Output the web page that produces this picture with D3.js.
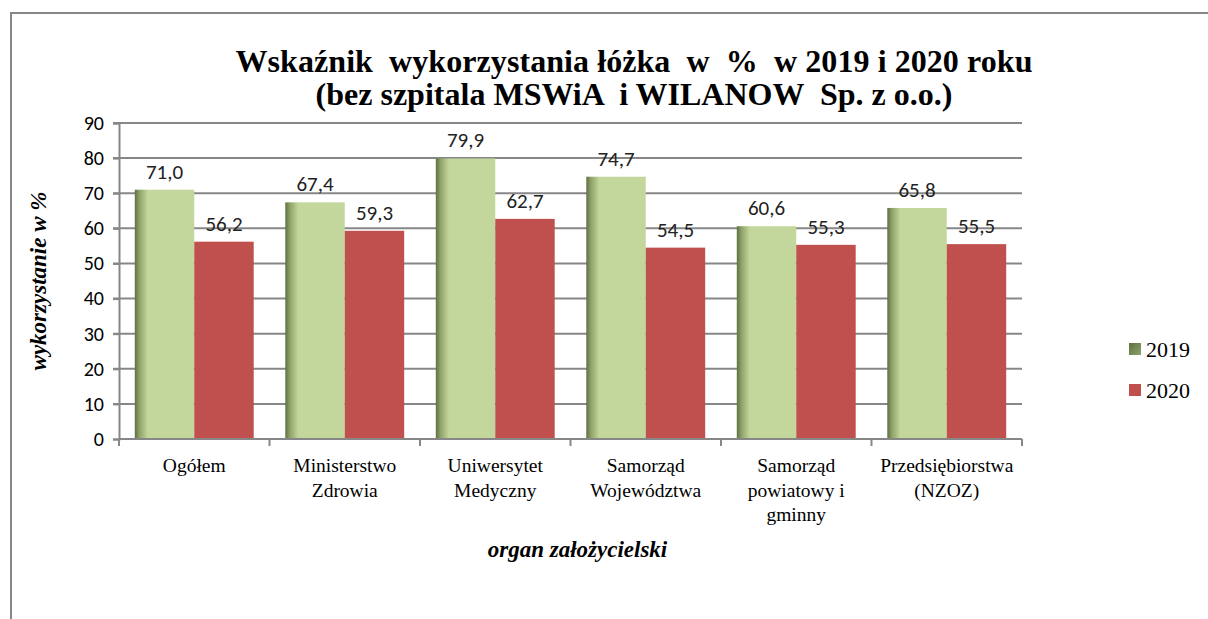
<!DOCTYPE html>
<html>
<head>
<meta charset="utf-8">
<script src="https://cdn.jsdelivr.net/npm/d3@7"></script>
<style>
  body { margin: 0; background: #fff; }
</style>
</head>
<body>
<script>
// chart values
var categories = [
    ["Ogółem"],
    ["Ministerstwo", "Zdrowia"],
    ["Uniwersytet", "Medyczny"],
    ["Samorząd", "Województwa"],
    ["Samorząd", "powiatowy i", "gminny"],
    ["Przedsiębiorstwa", "(NZOZ)"]
];
var years = ["2019", "2020"];
var values2019 = [71.0, 67.4, 79.9, 74.7, 60.6, 65.8];
var values2020 = [56.2, 59.3, 62.7, 54.5, 55.3, 55.5];
var yTicks = [0, 10, 20, 30, 40, 50, 60, 70, 80, 90];

var SERIF = "'Liberation Serif', 'Times New Roman', serif";
var SANS = "Carlito, 'Liberation Sans', sans-serif";

var W = 1208, H = 619;
var margin = {left: 119, right: 186, top: 123, bottom: 180};
var width = W - margin.left - margin.right,
    height = H - margin.top - margin.bottom;

var svg = d3.select("body").append("svg")
    .attr("width", W)
    .attr("height", H);

// outer frame
svg.append("rect")
    .attr("x", 11).attr("y", 13)
    .attr("width", W + 20).attr("height", H + 20)
    .attr("fill", "none")
    .attr("stroke", "#878787")
    .attr("stroke-width", 2);

var defs = svg.append("defs");
var grad = defs.append("linearGradient")
    .attr("id", "g2019")
    .attr("x1", "0%").attr("x2", "100%").attr("y1", "0%").attr("y2", "0%");
grad.append("stop").attr("offset", "0%").attr("stop-color", "#5f6f42");
grad.append("stop").attr("offset", "8%").attr("stop-color", "#8fa36a");
grad.append("stop").attr("offset", "22%").attr("stop-color", "#c3d69b");
grad.append("stop").attr("offset", "100%").attr("stop-color", "#c3d69b");

var lgGrad = defs.append("linearGradient")
    .attr("id", "lg2019")
    .attr("x1", "0%").attr("x2", "100%").attr("y1", "0%").attr("y2", "100%");
lgGrad.append("stop").attr("offset", "0%").attr("stop-color", "#5f6f42");
lgGrad.append("stop").attr("offset", "100%").attr("stop-color", "#8fa36a");

var colors = {"2019": "url(#g2019)", "2020": "#c0504d"};

var g = svg.append("g")
    .attr("transform", "translate(" + margin.left + "," + margin.top + ")");

var x0 = d3.scaleBand()
    .domain(d3.range(categories.length))
    .range([0, width])
    .paddingInner(0.21)
    .paddingOuter(0.105);

var x1 = d3.scaleBand()
    .domain(years)
    .range([0, x0.bandwidth()]);

var y = d3.scaleLinear()
    .domain([0, 90])
    .range([height, 0]);

// gridlines
g.selectAll(".grid")
    .data(yTicks.slice(1))
    .enter().append("line")
    .attr("x1", -6).attr("x2", width)
    .attr("y1", function(d) { return y(d); })
    .attr("y2", function(d) { return y(d); })
    .attr("stroke", "#878787")
    .attr("stroke-width", 2);

// y axis
var yAxis = g.append("g")
    .call(d3.axisLeft(y).tickValues(yTicks).tickSize(6).tickPadding(9));
yAxis.select(".domain").attr("stroke", "#878787").attr("stroke-width", 2);
yAxis.selectAll(".tick line").attr("stroke", "#878787").attr("stroke-width", 2);
yAxis.selectAll(".tick text")
    .style("font-family", SANS)
    .style("font-size", "20px")
    .attr("fill", "#000");

// bars
var rows = values2019.map(function(v, i) {
    return {i: i, vals: [{k: "2019", v: v}, {k: "2020", v: values2020[i]}]};
});

var groups = g.selectAll(".cat")
    .data(rows)
    .enter().append("g")
    .attr("transform", function(d) { return "translate(" + x0(d.i) + ",0)"; });

groups.selectAll("rect")
    .data(function(d) { return d.vals; })
    .enter().append("rect")
    .attr("x", function(d) { return x1(d.k); })
    .attr("y", function(d) { return y(d.v); })
    .attr("width", x1.bandwidth())
    .attr("height", function(d) { return height - y(d.v); })
    .attr("fill", function(d) { return colors[d.k]; });

groups.selectAll(".lbl")
    .data(function(d) { return d.vals; })
    .enter().append("text")
    .attr("x", function(d) { return x1(d.k) + x1.bandwidth() / 2; })
    .attr("y", function(d) { return y(d.v) - 11; })
    .attr("text-anchor", "middle")
    .style("font-family", SANS)
    .style("font-size", "21px")
    .attr("fill", "#222")
    .text(function(d) { return d3.format(".1f")(d.v).replace(".", ","); });

// x axis line and ticks at category boundaries
g.append("line")
    .attr("x1", 0).attr("x2", width)
    .attr("y1", height).attr("y2", height)
    .attr("stroke", "#878787").attr("stroke-width", 2);

var step = x0.step();
g.selectAll(".xt")
    .data(d3.range(categories.length + 1))
    .enter().append("line")
    .attr("x1", function(d) { return d * step; })
    .attr("x2", function(d) { return d * step; })
    .attr("y1", height).attr("y2", height + 7)
    .attr("stroke", "#878787").attr("stroke-width", 2);

// category labels
var catText = g.selectAll(".cl")
    .data(categories)
    .enter().append("text")
    .attr("text-anchor", "middle")
    .style("font-family", SERIF)
    .style("font-size", "19.5px")
    .attr("fill", "#000")
    .attr("transform", function(d, i) {
        return "translate(" + (x0(i) + x0.bandwidth() / 2) + "," + (height + 33) + ")";
    });
catText.selectAll("tspan")
    .data(function(d) { return d; })
    .enter().append("tspan")
    .attr("x", 0)
    .attr("dy", function(d, i) { return i === 0 ? 0 : 24.5; })
    .text(function(d) { return d; });

// titles, stretched to the widths seen in the reference
function title(txt, yy, w) {
    var t = svg.append("text")
        .attr("x", 634).attr("y", yy)
        .attr("text-anchor", "middle")
        .style("font-family", SERIF)
        .style("font-weight", "bold")
        .style("font-size", "32px")
        .style("white-space", "pre")
        .attr("fill", "#000")
        .text(txt);
    var len = t.node().getComputedTextLength();
    var n = txt.length;
    if (len > 0 && n > 1) {
        t.style("letter-spacing", ((w - len) / n) + "px");
    }
    return t;
}
title("Wskaźnik  wykorzystania łóżka  w  %  w 2019 i 2020 roku", 72, 797);
title("(bez szpitala MSWiA  i WILANOW  Sp. z o.o.)", 105, 637);

svg.append("text")
    .attr("transform", "translate(46," + (margin.top + y(45)) + ") rotate(-90)")
    .attr("text-anchor", "middle")
    .style("font-family", SERIF)
    .style("font-weight", "bold")
    .style("font-style", "italic")
    .style("font-size", "23px")
    .text("wykorzystanie w %");

svg.append("text")
    .attr("x", margin.left + width / 2 + 7).attr("y", 557)
    .attr("text-anchor", "middle")
    .style("font-family", SERIF)
    .style("font-weight", "bold")
    .style("font-style", "italic")
    .style("font-size", "23px")
    .text("organ założycielski");

// legend
var legend = svg.selectAll(".leg")
    .data(years)
    .enter().append("g")
    .attr("transform", function(d, i) {
        return "translate(1129," + (343 + i * 41) + ")";
    });
legend.append("rect")
    .attr("width", 12).attr("height", 12)
    .attr("fill", function(d) { return d === "2019" ? "url(#lg2019)" : "#c0504d"; });
legend.append("text")
    .attr("x", 17).attr("y", 14)
    .style("font-family", SERIF)
    .style("font-size", "22px")
    .text(function(d) { return d; });
</script>
</body>
</html>
